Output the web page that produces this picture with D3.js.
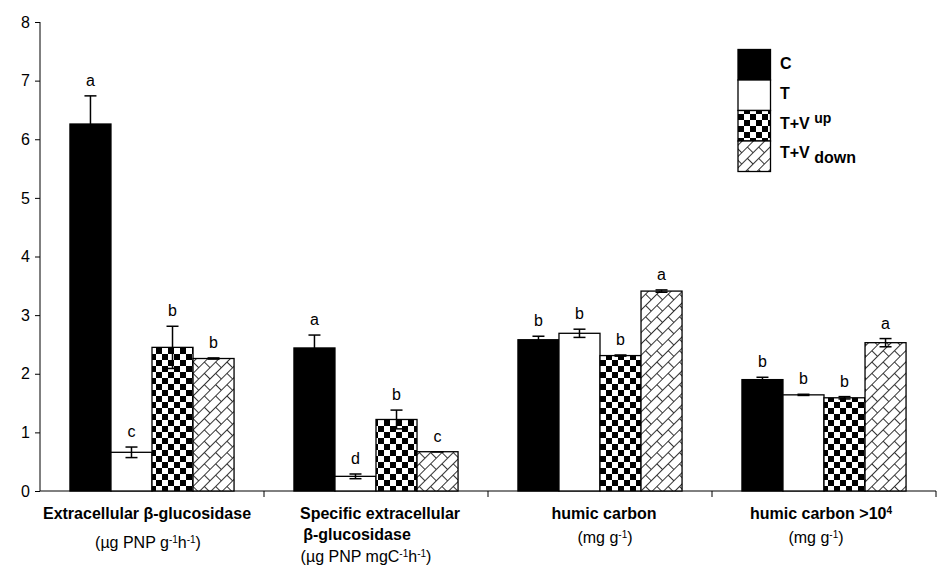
<!DOCTYPE html>
<html>
<head>
<meta charset="utf-8">
<script src="https://cdn.jsdelivr.net/npm/d3@7"></script>
<style>
  html, body { margin: 0; padding: 0; background: #fff; }
  svg { display: block; font-family: "Liberation Sans", Arial, sans-serif; }
</style>
</head>
<body>
<svg id="chart" width="940" height="568"></svg>
<script>
// ---- data ----
const categories = ["extra", "specific", "humic", "humic104"];
const seriesNames = ["C", "T", "T+V up", "T+V down"];
const valuesC     = [6.26, 2.44, 2.58, 1.90];
const valuesT     = [0.66, 0.25, 2.69, 1.64];
const valuesTVup  = [2.45, 1.22, 2.31, 1.59];
const valuesTVdn  = [2.26, 0.67, 3.41, 2.53];
const errC        = [0.48, 0.22, 0.06, 0.04];
const errT        = [0.09, 0.04, 0.07, 0.01];
const errTVup     = [0.36, 0.16, 0.01, 0.02];
const errTVdn     = [0.01, 0.00, 0.02, 0.07];
const lettersC    = ["a", "a", "b", "b"];
const lettersT    = ["c", "d", "b", "b"];
const lettersTVup = ["b", "b", "b", "b"];
const lettersTVdn = ["b", "c", "a", "a"];
const yTicks      = [0, 1, 2, 3, 4, 5, 6, 7, 8];

// category label lines
const catLabels = [
  [ {dx: -5, parts: [{t: "Extracellular β-glucosidase", b: true}]},
    {dx: -4, dy: 29, parts: [{t: "(µg PNP g"}, {t: "-1", sup: true}, {t: "h"}, {t: "-1", sup: true}, {t: ")"}]} ],
  [ {dx: 4, parts: [{t: "Specific extracellular", b: true}]},
    {dx: -19, dy: 21, parts: [{t: "β-glucosidase", b: true}]},
    {dx: -10, dy: 43, parts: [{t: "(µg PNP mgC"}, {t: "-1", sup: true}, {t: "h"}, {t: "-1", sup: true}, {t: ")"}]} ],
  [ {dx: 4, parts: [{t: "humic carbon", b: true}]},
    {dx: 5, dy: 24, parts: [{t: "(mg g"}, {t: "-1", sup: true}, {t: ")"}]} ],
  [ {dx: -3, parts: [{t: "humic carbon >10", b: true}, {t: "4", sup: true, b: true}]},
    {dx: -8, dy: 24, parts: [{t: "(mg g"}, {t: "-1", sup: true}, {t: ")"}]} ]
];

const seriesValues  = [valuesC, valuesT, valuesTVup, valuesTVdn];
const seriesErrors  = [errC, errT, errTVup, errTVdn];
const seriesLetters = [lettersC, lettersT, lettersTVup, lettersTVdn];
const fills = ["#000", "#fff", "url(#checker)", "url(#brick)"];

const rows = [];
categories.forEach((c, ci) => {
  seriesNames.forEach((s, si) => {
    rows.push({cat: c, ser: s, si, v: seriesValues[si][ci], e: seriesErrors[si][ci], l: seriesLetters[si][ci]});
  });
});

// ---- layout ----
const svg = d3.select("#chart");
const plotLeft = 40, plotRight = 936, plotTop = 22, plotBottom = 491;

const x0 = d3.scaleBand().domain(categories).range([plotLeft, plotRight]).paddingInner(0).paddingOuter(0);
const x1 = d3.scaleBand().domain(seriesNames).range([0, x0.bandwidth()]).paddingInner(0).paddingOuter(0.73);
const y = d3.scaleLinear().domain([0, 8]).range([plotBottom, plotTop]);

// ---- patterns ----
const defs = svg.append("defs");
const chk = defs.append("pattern").attr("id", "checker").attr("patternUnits", "userSpaceOnUse")
  .attr("width", 12).attr("height", 12);
chk.append("rect").attr("width", 12).attr("height", 12).attr("fill", "#fff");
chk.append("rect").attr("x", 0).attr("y", 0).attr("width", 6).attr("height", 6).attr("fill", "#000");
chk.append("rect").attr("x", 6).attr("y", 6).attr("width", 6).attr("height", 6).attr("fill", "#000");

const br = defs.append("pattern").attr("id", "brick").attr("patternUnits", "userSpaceOnUse")
  .attr("width", 16).attr("height", 16).attr("patternTransform", "rotate(-45)");
br.append("rect").attr("width", 16).attr("height", 16).attr("fill", "#fff");
br.append("path").attr("d", "M0,0.5H16 M0,8.5H16 M0.5,0.5V8.5 M8.5,8.5V16.5")
  .attr("stroke", "#333").attr("stroke-width", 1).attr("fill", "none");

// ---- axes ----
const yAxis = d3.axisLeft(y).tickValues(yTicks).tickSize(5).tickPadding(5).tickFormat(d3.format("d"));
const gy = svg.append("g").attr("transform", `translate(${plotLeft},0)`).call(yAxis);
gy.select(".domain").attr("d", `M0,${plotTop}V${plotBottom}`).attr("stroke", "#000");
gy.selectAll(".tick line").attr("stroke", "#000");
gy.selectAll(".tick text").attr("font-size", 16).attr("fill", "#000")
  .attr("font-family", "'Liberation Sans', Arial, sans-serif");

const gx = svg.append("g");
gx.append("line").attr("x1", plotLeft).attr("x2", plotRight).attr("y1", plotBottom).attr("y2", plotBottom).attr("stroke", "#000");
const bounds = categories.map(c => x0(c)).concat([x0(categories[categories.length - 1]) + x0.bandwidth()]);
gx.selectAll("line.tk").data(bounds.slice(1)).join("line").attr("class", "tk")
  .attr("x1", d => d).attr("x2", d => d).attr("y1", plotBottom).attr("y2", plotBottom + 6).attr("stroke", "#000");

// ---- bars ----
const bars = svg.append("g");
bars.selectAll("rect").data(rows).join("rect")
  .attr("x", d => x0(d.cat) + x1(d.ser))
  .attr("y", d => y(d.v))
  .attr("width", x1.bandwidth())
  .attr("height", d => y(0) - y(d.v))
  .attr("fill", d => fills[d.si])
  .attr("stroke", "#000").attr("stroke-width", 1.3);

// ---- error bars ----
const eg = svg.append("g").attr("stroke", "#000").attr("stroke-width", 1.5);
rows.forEach(d => {
  const cx = x0(d.cat) + x1(d.ser) + x1.bandwidth() / 2;
  const y1 = y(d.v + d.e), y2 = y(d.v - d.e);
  eg.append("line").attr("x1", cx).attr("x2", cx).attr("y1", y1).attr("y2", y2);
  eg.append("line").attr("x1", cx - 6).attr("x2", cx + 6).attr("y1", y1).attr("y2", y1);
  eg.append("line").attr("x1", cx - 6).attr("x2", cx + 6).attr("y1", y2).attr("y2", y2);
});

// ---- significance letters ----
svg.append("g").selectAll("text").data(rows).join("text")
  .attr("x", d => x0(d.cat) + x1(d.ser) + x1.bandwidth() / 2)
  .attr("y", d => y(d.v + d.e) - 10)
  .attr("text-anchor", "middle").attr("font-size", 16).attr("fill", "#000")
  .text(d => d.l);

// ---- category labels ----
const lg = svg.append("g");
categories.forEach((c, ci) => {
  const cx = x0(c) + x0.bandwidth() / 2;
  catLabels[ci].forEach(line => {
    const t = lg.append("text").attr("x", cx + line.dx).attr("y", plotBottom + 28 + (line.dy || 0))
      .attr("text-anchor", "middle").attr("font-size", 16).attr("fill", "#000");
    line.parts.forEach(p => {
      const ts = t.append("tspan").text(p.t).attr("font-weight", p.b ? "bold" : "normal");
      if (p.sup) ts.attr("font-size", 10).attr("baseline-shift", "super");
    });
  });
});

// ---- legend ----
const legX = 738, legY = 49.5, legH = 30.5, legW = 32.5;
const leg = svg.append("g");
seriesNames.forEach((s, i) => {
  leg.append("rect").attr("x", legX).attr("y", legY + i * legH).attr("width", legW).attr("height", legH)
    .attr("fill", fills[i]).attr("stroke", "#000").attr("stroke-width", 1.3);
});
const legBase = [69, 99, 128.5, 158];
const legText = [
  [{t: "C"}],
  [{t: "T"}],
  [{t: "T+V "}, {t: "up", dy: -6}],
  [{t: "T+V "}, {t: "down", dy: 5}]
];
legText.forEach((parts, i) => {
  const t = leg.append("text").attr("x", 780).attr("y", legBase[i]).attr("font-size", 16)
    .attr("font-weight", "bold").attr("fill", "#000");
  parts.forEach(p => {
    const ts = t.append("tspan").text(p.t);
    if (p.dy) ts.attr("dy", p.dy).attr("font-size", p.t === "up" ? 14 : 16);
  });
});
</script>
</body>
</html>
